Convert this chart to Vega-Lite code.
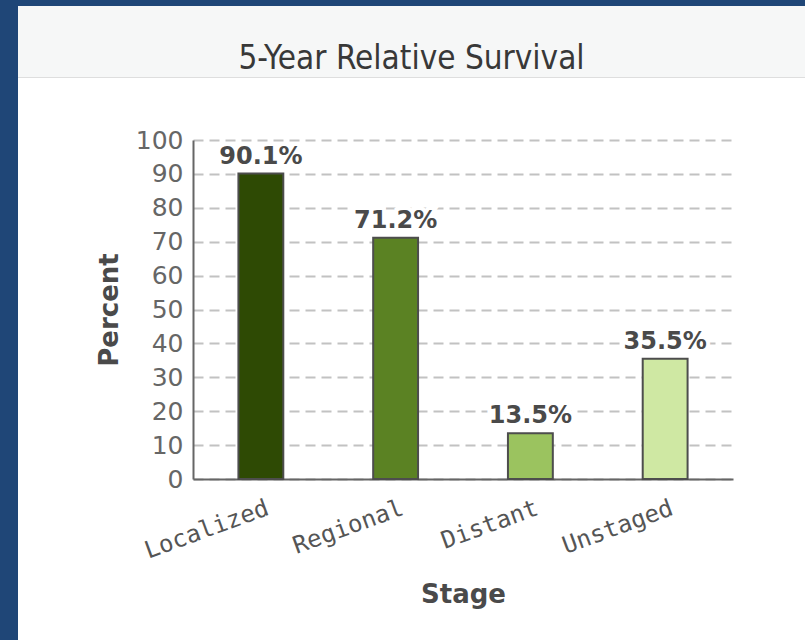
{
  "$schema": "https://vega.github.io/schema/vega-lite/v6.json",
  "background": "white",
  "padding": 0,
  "spacing": 0,
  "bounds": "flush",
  "config": {"view": {"stroke": null}, "concat": {"spacing": 0}},
  "hconcat": [
    {
      "width": 18, "height": 640,
      "view": {"fill": "#1f4677", "stroke": null},
      "data": {"values": [{}]},
      "mark": {"type": "point", "opacity": 0}
    },
    {
      "spacing": 0,
      "bounds": "flush",
      "vconcat": [
        {
          "width": 787, "height": 6,
          "view": {"fill": "#1f4677", "stroke": null},
          "data": {"values": [{}]},
          "mark": {"type": "point", "opacity": 0}
        },
        {
          "width": 787, "height": 71,
          "view": {"fill": "#f6f7f7", "stroke": null},
          "data": {"values": [{"Title": "5-Year Relative Survival"}]},
          "mark": {"type": "text", "font": "DejaVu Sans Condensed, DejaVu Sans", "fontSize": 33, "color": "#383838", "baseline": "alphabetic", "dy": 27},
          "encoding": {"text": {"field": "Title", "type": "nominal"}}
        },
        {
          "width": 787, "height": 1,
          "view": {"fill": "#dedede", "stroke": null},
          "data": {"values": [{}]},
          "mark": {"type": "point", "opacity": 0}
        },
        {
          "width": 787, "height": 62,
          "data": {"values": [{}]},
          "mark": {"type": "point", "opacity": 0}
        },
        {
          "spacing": 0,
          "bounds": "flush",
          "hconcat": [
            {
              "width": 175, "height": 339,
              "data": {"values": [{}]},
              "mark": {"type": "point", "opacity": 0}
            },
            {
              "width": 540, "height": 339,
              "data": {"values": [
                {"Stage": "Localized", "Percent": 90.1, "Label": "90.1%"},
                {"Stage": "Regional", "Percent": 71.2, "Label": "71.2%"},
                {"Stage": "Distant", "Percent": 13.5, "Label": "13.5%"},
                {"Stage": "Unstaged", "Percent": 35.5, "Label": "35.5%"}
              ]},
              "encoding": {
                "x": {
                  "field": "Stage", "type": "nominal", "sort": null,
                  "scale": {"paddingInner": 0.667, "paddingOuter": 0.337},
                  "axis": {
                    "title": "Stage", "titleFont": "DejaVu Sans", "titleFontSize": 26, "titleFontWeight": "bold", "titleColor": "#4a4a4a", "titlePadding": 18,
                    "labelAngle": -20, "labelFont": "DejaVu Sans Mono", "labelFontSize": 24, "labelColor": "#555555", "labelPadding": 17, "labelOffset": 3,
                    "ticks": false, "domainColor": "#666666", "domainWidth": 2, "grid": false
                  }
                },
                "y": {
                  "field": "Percent", "type": "quantitative",
                  "scale": {"domain": [0, 100], "nice": false},
                  "axis": {
                    "values": [0, 10, 20, 30, 40, 50, 60, 70, 80, 90, 100],
                    "title": "Percent", "titleFont": "DejaVu Sans", "titleFontSize": 26, "titleFontWeight": "bold", "titleColor": "#4a4a4a", "titlePadding": 13,
                    "labelFont": "DejaVu Sans", "labelFontSize": 25, "labelColor": "#666666", "labelPadding": 10,
                    "ticks": false, "domainColor": "#666666", "domainWidth": 2,
                    "grid": true, "gridColor": "#c2c2c2", "gridWidth": 2, "gridDash": [10, 6]
                  }
                }
              },
              "layer": [
                {
                  "mark": {"type": "bar", "stroke": "#4d4d4d", "strokeWidth": 2},
                  "encoding": {
                    "color": {
                      "field": "Stage", "type": "nominal", "sort": null,
                      "scale": {"domain": ["Localized", "Regional", "Distant", "Unstaged"], "range": ["#2e4a04", "#5b8223", "#9bc35f", "#cfe8a3"]},
                      "legend": null
                    }
                  }
                },
                {
                  "mark": {"type": "text", "baseline": "alphabetic", "dy": -10, "font": "DejaVu Sans", "fontSize": 24, "fontWeight": "bold", "fill": "white", "stroke": "white", "strokeWidth": 8},
                  "encoding": {"text": {"field": "Label", "type": "nominal"}}
                },
                {
                  "mark": {"type": "text", "baseline": "alphabetic", "dy": -10, "font": "DejaVu Sans", "fontSize": 24, "fontWeight": "bold", "fill": "#4a4a4a"},
                  "encoding": {"text": {"field": "Label", "type": "nominal"}}
                }
              ]
            }
          ]
        }
      ]
    }
  ]
}
